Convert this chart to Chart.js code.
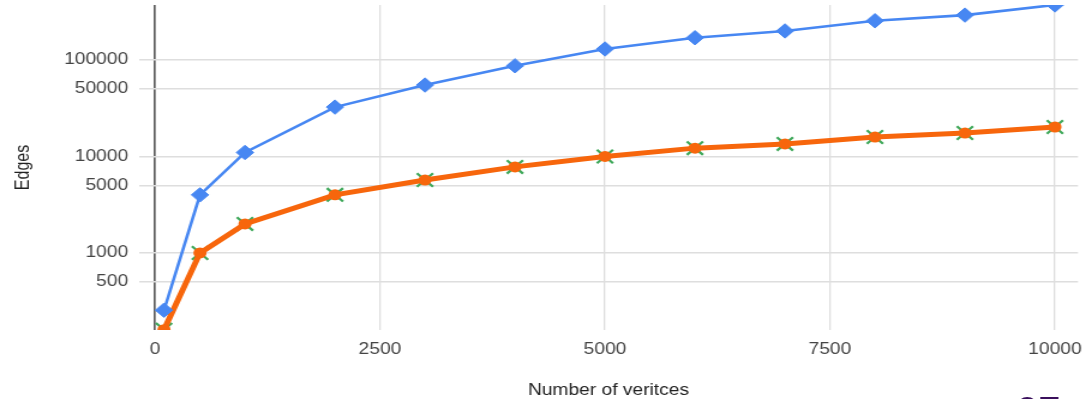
<!DOCTYPE html>
<html lang="en">
<head>
  <meta charset="UTF-8">
  <title>Edges vs vertices</title>
  <script src="https://cdn.jsdelivr.net/npm/chart.js"></script>
  <style>
    html, body { margin: 0; padding: 0; background: #ffffff; overflow: hidden; }
    body { width: 1083px; height: 399px; position: relative; }
    /* the reference is a slide screenshot squeezed wider, so draw narrower and stretch */
    #wrap { position: absolute; left: 0; top: 0; width: 903px; height: 399px; transform: scaleX(1.2); transform-origin: 0 0; }
    .slide-no { position: absolute; left: 1016px; top: 391px; font: 40px "Liberation Sans", Arial, sans-serif; line-height: 40px; color: #3a0f5c; }
  </style>
</head>
<body>
  <div id="wrap"><canvas id="chart"></canvas></div>
  <div class="slide-no">27</div>

  <script>
    const vertices = [100, 500, 1000, 2000, 3000, 4000, 5000, 6000, 7000, 8000, 9000, 10000];
    const edgesBlue = [255, 4000, 11000, 32500, 55000, 87000, 130000, 170000, 200000, 255000, 292000, 372000];
    const edgesOrange = [160, 1000, 2000, 4000, 5700, 7800, 10000, 12200, 13500, 15900, 17500, 20200];
    const xTicks = [0, 2500, 5000, 7500, 10000];
    const yTicks = [500, 1000, 5000, 10000, 50000, 100000];

    const pts = ys => vertices.map((x, i) => ({ x: x, y: ys[i] }));
    const font = { family: '"Liberation Sans", Arial, sans-serif', size: 16 };

    new Chart('chart', {
      type: 'line',
      data: {
        datasets: [
          {
            data: pts(edgesBlue), borderColor: '#4787f2', backgroundColor: '#4787f2',
            borderWidth: 2.6, pointStyle: 'rectRot', pointRadius: 7.2, pointBorderWidth: 1, order: 0
          },
          {
            data: pts(edgesOrange), borderColor: '#f7660c', backgroundColor: '#f7660c',
            borderWidth: 5, pointStyle: 'circle', pointRadius: 5.5, pointBorderWidth: 0, order: 1
          },
          {
            data: pts(edgesOrange), showLine: false, borderColor: '#3fa85a', backgroundColor: '#3fa85a',
            pointStyle: 'crossRot', pointRadius: 9.5, pointBorderWidth: 2.2, order: 2
          }
        ]
      },
      options: {
        responsive: true,
        maintainAspectRatio: false,
        animation: false,
        layout: { autoPadding: false, padding: { top: 5, right: 4.7, bottom: 0, left: 0 } },
        plugins: { legend: { display: false }, tooltip: { enabled: false } },
        elements: { line: { tension: 0 } },
        scales: {
          x: {
            type: 'linear', min: -178, max: 10256,
            afterBuildTicks: s => { s.ticks = xTicks.map(v => ({ value: v })); },
            afterFit: s => { s.height = 69; s.paddingLeft = 0; s.paddingRight = 0; },
            grid: {
              drawTicks: false,
              color: c => c.tick && c.tick.value === 0 ? '#5f5f5f' : '#dedede',
              lineWidth: c => c.tick && c.tick.value === 0 ? 1.7 : 1.3
            },
            border: { display: false },
            ticks: { padding: 10, color: '#444', font: font, maxRotation: 0, callback: v => String(v) },
            title: { display: true, text: 'Number of veritces', color: '#222', font: font, padding: { top: 0, bottom: -1 } }
          },
          y: {
            type: 'logarithmic', min: 159, max: 371500,
            afterBuildTicks: s => { s.ticks = yTicks.map(v => ({ value: v })); },
            afterFit: s => { s.width = 115.8; s.paddingTop = 0; s.paddingBottom = 0; },
            grid: { drawTicks: false, color: '#dedede', lineWidth: 1.6 },
            border: { display: false },
            ticks: { padding: 9, color: '#444', font: font, callback: v => String(v) },
            title: { display: true, text: 'Edges', color: '#222', font: { family: font.family, size: 16 }, padding: { top: 10, bottom: 0 } }
          }
        }
      }
    });
  </script>
</body>
</html>
